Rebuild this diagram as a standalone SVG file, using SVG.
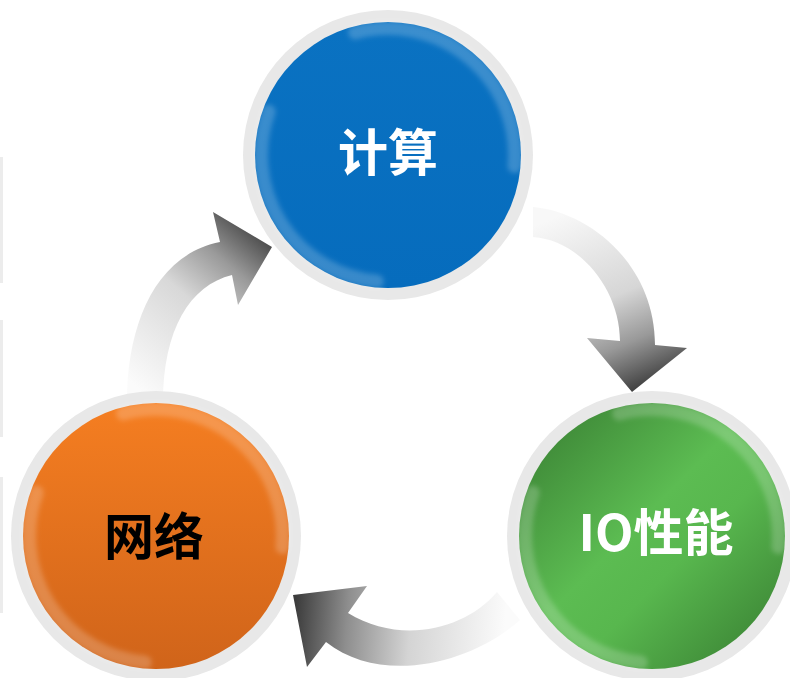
<svg xmlns="http://www.w3.org/2000/svg" xmlns:xlink="http://www.w3.org/1999/xlink" width="790" height="678" viewBox="0 0 790 678">
<style>
.ring{fill:#e8e8e8}
.hl{fill:none;stroke:#ffffff;stroke-opacity:0.2;stroke-width:14;stroke-linecap:round;filter:url(#soft)}
.lbl{font-family:"Noto Sans CJK SC","Noto Sans",sans-serif;font-weight:700;font-size:50px;text-anchor:middle}
.edge{fill:#ececec}
</style>
<defs>
<filter id="soft" x="-20%" y="-20%" width="140%" height="140%"><feGaussianBlur stdDeviation="2.5"/></filter>
<linearGradient id="gA1" gradientUnits="userSpaceOnUse" x1="140" y1="390" x2="272" y2="235">
<stop offset="0" stop-color="#fbfbfb"/><stop offset="0.5" stop-color="#d8d8d8"/><stop offset="0.75" stop-color="#9a9a9a"/><stop offset="1" stop-color="#3e3e3e"/>
</linearGradient>
<linearGradient id="gA2" gradientUnits="userSpaceOnUse" x1="560" y1="215" x2="635" y2="392">
<stop offset="0" stop-color="#f8f8f8"/><stop offset="0.5" stop-color="#d6d6d6"/><stop offset="0.75" stop-color="#999999"/><stop offset="1" stop-color="#3e3e3e"/>
</linearGradient>
<linearGradient id="gA3" gradientUnits="userSpaceOnUse" x1="295" y1="610" x2="505" y2="625">
<stop offset="0" stop-color="#3c3c3c"/><stop offset="0.25" stop-color="#8e8e8e"/><stop offset="0.55" stop-color="#d4d4d4"/><stop offset="1" stop-color="#fbfbfb"/>
</linearGradient>
<linearGradient id="gOrange" x1="0" y1="0" x2="0" y2="1">
<stop offset="0" stop-color="#f57e21"/><stop offset="1" stop-color="#d0641a"/>
</linearGradient>
<linearGradient id="gGreen" x1="0" y1="0" x2="1" y2="1">
<stop offset="0" stop-color="#367a30"/><stop offset="0.45" stop-color="#5cbc52"/><stop offset="0.6" stop-color="#58b74e"/><stop offset="1" stop-color="#367a30"/>
</linearGradient>
<linearGradient id="gBlue" x1="0" y1="0" x2="0" y2="1">
<stop offset="0" stop-color="#0a72c2"/><stop offset="1" stop-color="#066cbd"/>
</linearGradient>
<path id="hlTR" d="M-32.9,-122.6 A127,127 0 0 1 126.5,11.1"/>
<path id="hlBL" d="M-11.1,126.5 A127,127 0 0 1 -119.3,-43.4"/>
</defs>
<rect width="790" height="678" fill="#ffffff"/>
<rect class="edge" x="0" y="157" width="3" height="126"/>
<rect class="edge" x="0" y="320" width="3" height="117"/>
<rect class="edge" x="0" y="477" width="3" height="136"/>
<g id="connectors">
<path id="arrow-network-compute" fill="url(#gA1)" d="M127,402 C127,325 155,255 220,242 L213,212 L272,247 L238,305 L232,275 C190,285 163,330 163,402 Z"/>
<path id="arrow-compute-io" fill="url(#gA2)" d="M533,207 C590,212 655,265 655,345 L687,348 L632,392 L587,338 L620,341 C620,290 580,240 533,237 Z"/>
<path id="arrow-io-network" fill="url(#gA3)" d="M520,620 C470,665 380,685 326,642 L307,667 L293,595 L367,586 L348,613 C400,645 465,630 497,592 Z"/>
</g>
<g id="node-compute">
<circle class="ring" cx="388" cy="155" r="145"/>
<circle cx="388" cy="155" r="133" fill="url(#gBlue)"/>
<use href="#hlTR" class="hl" transform="translate(388,155)"/>
<use href="#hlBL" class="hl" transform="translate(388,155)"/>
<text class="lbl" x="388" y="171" fill="#ffffff">计算</text>
</g>
<g id="node-io">
<circle class="ring" cx="652" cy="536" r="145"/>
<circle cx="652" cy="536" r="133" fill="url(#gGreen)"/>
<use href="#hlTR" class="hl" transform="translate(652,536)"/>
<use href="#hlBL" class="hl" transform="translate(652,536)"/>
<text class="lbl" x="656" y="551" fill="#ffffff">IO性能</text>
</g>
<g id="node-network">
<circle class="ring" cx="156" cy="536" r="145"/>
<circle cx="156" cy="536" r="133" fill="url(#gOrange)"/>
<use href="#hlTR" class="hl" transform="translate(156,536)"/>
<use href="#hlBL" class="hl" transform="translate(156,536)"/>
<text class="lbl" x="154" y="555" fill="#000000">网络</text>
</g>
</svg>
